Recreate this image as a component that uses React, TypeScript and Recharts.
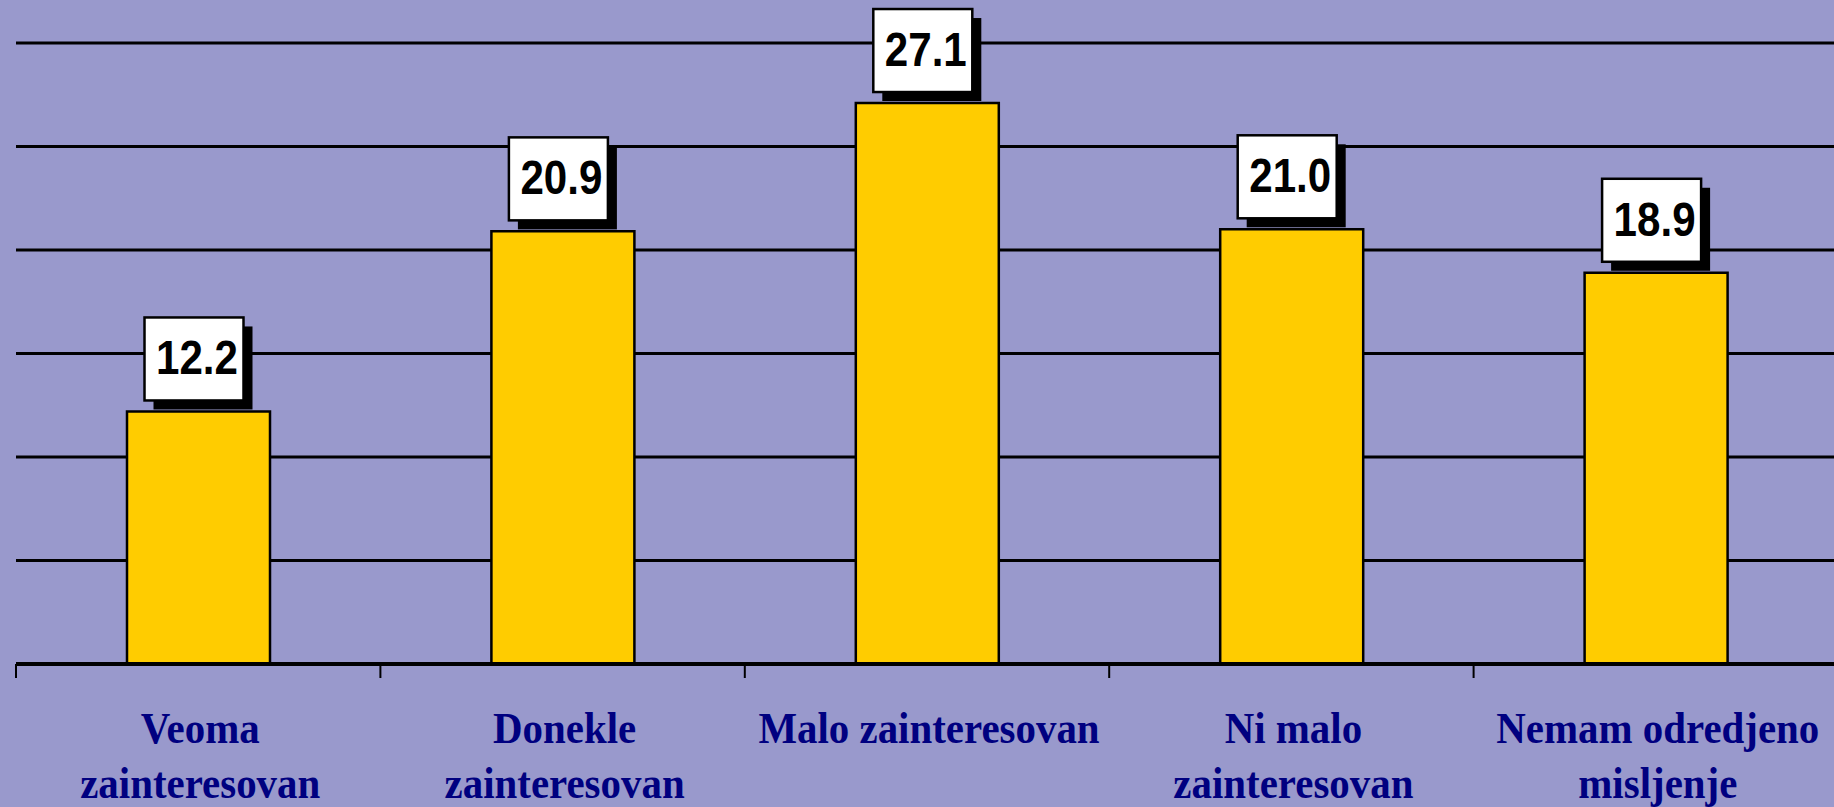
import React from "react";
import {
  BarChart,
  Bar,
  XAxis,
  YAxis,
  CartesianGrid,
  LabelList,
} from "recharts";

const categories = ["Veoma", "Donekle", "Malo", "Ni malo", "Nemam"];
const labelLine1 = [
  "Veoma",
  "Donekle",
  "Malo zainteresovan",
  "Ni malo",
  "Nemam odredjeno",
];
const labelLine2 = [
  "zainteresovan",
  "zainteresovan",
  "",
  "zainteresovan",
  "misljenje",
];
const values = [12.2, 20.9, 27.1, 21.0, 18.9];
const yTicks = [0, 5, 10, 15, 20, 25, 30];

const W = 1840;
const H = 807;
const MARGIN = { top: 43, right: 2, left: 16, bottom: 0 };
const X_AXIS_H = 143;
const BAND = (W - MARGIN.left - MARGIN.right) / categories.length;

const data = categories.map((c, i) => ({
  name: c,
  value: values[i],
}));

function CategoryTick(props: any) {
  const { x, y, index } = props;
  const l1 = labelLine1[index];
  const l2 = labelLine2[index];
  const left = x - BAND / 2;
  return (
    <g>
      <line x1={left} y1={y} x2={left} y2={y + 14} stroke="#000" strokeWidth={2} />
      <g transform={`translate(${x + 2},${y + 79}) scale(0.93,1)`}>
        <text
          x={0}
          y={0}
          textAnchor="middle"
          fontFamily="'Liberation Serif', 'Times New Roman', serif"
          fontWeight="bold"
          fontSize={44}
          fill="#000080"
        >
          {l1}
        </text>
      </g>
      {l2 ? (
        <g transform={`translate(${x + 2},${y + 134}) scale(0.93,1)`}>
          <text
            x={0}
            y={0}
            textAnchor="middle"
            fontFamily="'Liberation Serif', 'Times New Roman', serif"
            fontWeight="bold"
            fontSize={44}
            fill="#000080"
          >
            {l2}
          </text>
        </g>
      ) : null}
    </g>
  );
}

function ValueBox(props: any) {
  const { x, y, width, value } = props;
  const cx = x + width / 2;
  const boxW = 99;
  const boxH = 83;
  const bx = cx - 54;
  const by = y - 11 - boxH;
  return (
    <g>
      <rect x={bx + 9} y={by + 9} width={boxW} height={boxH} fill="#000" />
      <rect
        x={bx}
        y={by}
        width={boxW}
        height={boxH}
        fill="#fff"
        stroke="#000"
        strokeWidth={2.5}
      />
      <g transform={`translate(${bx + boxW / 2 + 3},${by + 57}) scale(0.86,1)`}>
        <text
          x={0}
          y={0}
          textAnchor="middle"
          fontFamily="'Liberation Sans', Arial, sans-serif"
          fontWeight="bold"
          fontSize={49}
          fill="#000"
        >
          {Number(value).toFixed(1)}
        </text>
      </g>
    </g>
  );
}

export default function App() {
  return (
    <div
      style={{
        position: "absolute",
        left: 0,
        top: 0,
        width: 1834,
        height: 807,
        overflow: "hidden",
        background: "#9999CC",
      }}
    >
      <BarChart width={W} height={H} data={data} margin={MARGIN}>
        <CartesianGrid
          horizontal={true}
          vertical={false}
          stroke="#000"
          strokeWidth={3}
        />
        <XAxis
          dataKey="name"
          height={X_AXIS_H}
          axisLine={{ stroke: "#000", strokeWidth: 4 }}
          tickLine={false}
          tickSize={0}
          tickMargin={0}
          interval={0}
          tick={<CategoryTick />}
        />
        <YAxis hide width={0} domain={[0, 30]} ticks={yTicks} />
        <Bar
          dataKey="value"
          fill="#FFCC00"
          stroke="#000"
          strokeWidth={2.5}
          barSize={143}
          isAnimationActive={false}
        >
          <LabelList dataKey="value" content={<ValueBox />} />
        </Bar>
      </BarChart>
    </div>
  );
}
